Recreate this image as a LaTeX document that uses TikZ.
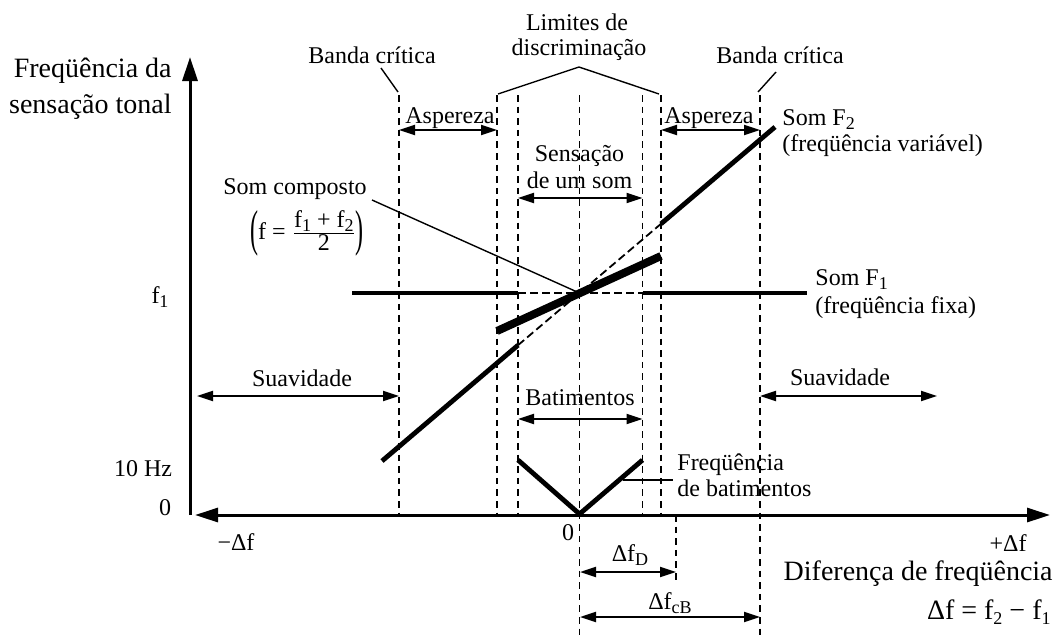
\documentclass[tikz,border=0pt]{standalone}
\usepackage{fontspec}
\usepackage{graphicx}
\setmainfont{Liberation Serif}
\usetikzlibrary{arrows.meta}
\newcommand{\mysub}[1]{\raisebox{-0.4ex}{\fontsize{9}{9}\selectfont #1}}
\newcommand{\tallparen}[1]{\vcenter{\hbox{\scalebox{1}[2.1]{#1}}}}
\begin{document}
\begin{tikzpicture}[x=0.5pt,y=-0.5pt,
  lbl/.style={font=\fontsize{12}{14}\selectfont, inner sep=0pt, text height=8pt, text depth=0pt},
  big/.style={font=\fontsize{14}{17}\selectfont, inner sep=0pt, text height=9.3pt, text depth=0pt},
  axisline/.style={line width=1.5pt},
  guide/.style={line width=0.9pt, dash pattern=on 3.3pt off 2.5pt},
  tone/.style={line width=2.4pt},
  tonedash/.style={line width=0.9pt, dash pattern=on 4pt off 2pt},
  comp/.style={line width=4pt},
  dimarrow/.style={line width=1pt, {Triangle[length=8pt,width=5pt]}-{Triangle[length=8pt,width=5pt]}},
  leader/.style={line width=0.7pt}]
\useasboundingbox (0,0) rectangle (1054,639);

% axes
\coordinate (O) at (190,515);
\coordinate (Ytip) at (190,57);
\coordinate (Xl) at (195,515);
\coordinate (Xr) at (1050,515);
\draw[axisline,-{Triangle[length=12pt,width=7.5pt]}] (O) -- (Ytip);
\draw[axisline,{Triangle[length=11.5pt,width=7pt]}-{Triangle[length=11.5pt,width=7pt]}] (Xl) -- (Xr);

% dashed guides
\coordinate (bcLt) at (399,95);   \coordinate (bcLb) at (399,515);
\coordinate (dLt) at (497,95);    \coordinate (dLb) at (497,515);
\coordinate (iLt) at (518,95);    \coordinate (iLb) at (518,515);
\coordinate (ct) at (579.5,95);   \coordinate (cb) at (579.5,639);
\coordinate (iRt) at (642.5,95);  \coordinate (iRb) at (642.5,515);
\coordinate (dRt) at (661,95);    \coordinate (dRb) at (661,515);
\coordinate (bcRt) at (760,95);   \coordinate (bcRb) at (760,639);
\coordinate (fDt) at (676,515);   \coordinate (fDb) at (676,580);
\foreach \a/\b in {bcLt/bcLb,dLt/dLb,iLt/iLb,ct/cb,iRt/iRb,dRt/dRb,bcRt/bcRb,fDt/fDb}
  \draw[guide] (\a) -- (\b);

% tone F1
\coordinate (F1a) at (352,293);
\coordinate (F1b) at (518,293);
\coordinate (F1c) at (642.5,293);
\coordinate (F1d) at (807,293);
\draw[tone] (F1a) -- (F1b);
\draw[tonedash] (F1b) -- (F1c);
\draw[tone] (F1c) -- (F1d);

% tone F2
\coordinate (F2a) at (382,461);
\coordinate (F2b) at (518,345.2);
\coordinate (F2c) at (661,223.8);
\coordinate (F2d) at (775,127);
\draw[tone] (F2a) -- (F2b);
\draw[tonedash] (F2b) -- (F2c);
\draw[tone] (F2c) -- (F2d);

% composite
\coordinate (Ca) at (497,331);
\coordinate (Cb) at (661,256);
\coordinate (Cm) at (579.5,293);
\draw[comp] (Ca) -- (Cb);

% beat frequency V
\coordinate (Va) at (518,460);
\coordinate (Vb) at (579.5,514);
\coordinate (Vc) at (642.5,460);
\draw[tone] (Va) -- (Vb) -- (Vc);

% dimension arrows
\coordinate (asLa) at (399,130); \coordinate (asLb) at (497,130);
\coordinate (asRa) at (661,130); \coordinate (asRb) at (760,130);
\coordinate (seA) at (518,198);  \coordinate (seB) at (642.5,198);
\coordinate (baA) at (518,419);  \coordinate (baB) at (642.5,419);
\coordinate (suLa) at (197,396); \coordinate (suLb) at (399,396);
\coordinate (suRa) at (760,396); \coordinate (suRb) at (937,396);
\coordinate (fDa) at (580,572);  \coordinate (fDc) at (676,572);
\coordinate (cBa) at (580,617);  \coordinate (cBb) at (760,617);
\foreach \a/\b in {asLa/asLb,asRa/asRb,seA/seB,baA/baB,suLa/suLb,suRa/suRb,fDa/fDc,cBa/cBb}
  \draw[dimarrow] (\a) -- (\b);

% limits bracket
\coordinate (brA) at (498,94);
\coordinate (brB) at (579,67);
\coordinate (brC) at (659,94);
\draw[leader] (brA) -- (brB) -- (brC);

% labels
\node[big, anchor=east] (yl1) at (172,68) {Freqüência da};
\node[big, anchor=east] (yl2) at (172,104) {sensação tonal};

\node[lbl] (bcL) at (372,55) {Banda crítica};
\node[lbl] (bcR) at (780,55) {Banda crítica};
\coordinate (bcLl) at (381,68); \coordinate (bcLm) at (398,92);
\coordinate (bcRl) at (776,72); \coordinate (bcRm) at (758,92);
\draw[leader] (bcLl) -- (bcLm);
\draw[leader] (bcRl) -- (bcRm);

\node[lbl] (lim1) at (577,22) {Limites de};
\node[lbl] (lim2) at (579,47) {discriminação};

\node[lbl] (asL) at (450,115) {Aspereza};
\node[lbl] (asR) at (709,115) {Aspereza};

\node[lbl] (se1) at (579.5,153) {Sensação};
\node[lbl] (se2) at (579.5,180) {de um som};

\node[lbl, anchor=west] (F2l1) at (782,117) {Som F\mysub{2}};
\node[lbl, anchor=west] (F2l2) at (782,143) {(freqüência variável)};
\node[lbl, anchor=west] (F1l1) at (815,277) {Som F\mysub{1}};
\node[lbl, anchor=west] (F1l2) at (815,305) {(freqüência fixa)};

\node[lbl] (sc) at (295,186) {Som composto};
\node[font=\fontsize{12}{14}\selectfont, inner sep=0pt] (form) at (307,233)
  {$\tallparen{(}\hbox{f = }\frac{\hbox{f\mysub{1} + f\mysub{2}}}{\hbox{2}}\tallparen{)}$};
\coordinate (scl) at (372,200);
\draw[leader] (scl) -- (Cm);

\node[lbl] (f1) at (160,295) {f\mysub{1}};
\node[lbl] (tenhz) at (143,468) {10 Hz};
\node[lbl] (zy) at (165,507) {0};

\node[lbl] (suL) at (302,378) {Suavidade};
\node[lbl] (suR) at (840,377) {Suavidade};
\node[lbl] (bat) at (580,397) {Batimentos};

\node[lbl, anchor=west] (fb1) at (677,462) {Freqüência};
\node[lbl, anchor=west] (fb2) at (677,488) {de batimentos};
\coordinate (fbl) at (623,480); \coordinate (fbr) at (673,480);
\draw[leader] (fbl) -- (fbr);

\node[lbl] (zx) at (568,532) {0};
\node[lbl] (mdf) at (236,542) {−Δf};
\node[lbl] (pdf) at (1008,543) {+Δf};

\node[big, anchor=east] (dif) at (1053,571) {Diferença de freqüência};
\node[big, anchor=east] (eq) at (1051,610) {Δf = f\mysub{2} − f\mysub{1}};

\node[lbl] (dfD) at (630,553) {Δf\mysub{D}};
\node[lbl] (dfcB) at (670,601) {Δf\mysub{cB}};
\end{tikzpicture}
\end{document}
